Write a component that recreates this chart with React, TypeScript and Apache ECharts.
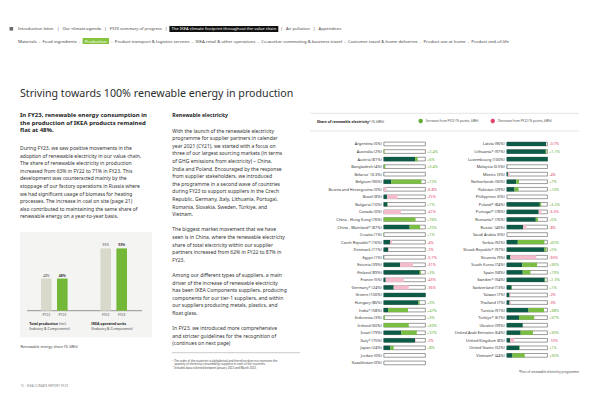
import React, { useEffect, useRef } from "react";
import * as echarts from "echarts";

const FONT = '"Noto Sans", "Open Sans", sans-serif';

// ---- left chart data ----
const yearLabels = ["FY22", "FY23"];
const totalProductionShare = [48, 48];
const ikeaUnitsShare = [93, 93];

// ---- country chart data ----
const leftCountries = [
  "Argentina", "Australia", "Austria", "Bangladesh", "Belarus²", "Belgium",
  "Bosnia and Herzegovina", "Brazil", "Bulgaria", "Canada", "China - Hong Kong",
  "China - Mainland*", "Croatia", "Czech Republic*", "Denmark", "Egypt", "Estonia",
  "Finland", "France", "Germany*", "Greece", "Hungary", "India*", "Indonesia",
  "Ireland", "Israel", "Italy*", "Japan", "Jordan", "Kazakhstan",
];
const leftShare = [0, 2, 81, 4, 0.3, 90, 0, 8, 10, 0, 76, 87, 1, 16, 11, 1, 39, 89, 5, 24, 100, 86, 58, 3, 60, 79, 75, 24, 0, 0];
const leftChange: (number | null)[] = [null, 2.4, 6, 3.4, null, 72, -6.8, -25, 1, -41, 76, 25, 1, -4, -2, -0.7, -31, 3, -43, -36, null, 3, 47, 3, 60, 37, -2, 8, null, null];

const rightCountries = [
  "Latvia", "Lithuania*", "Luxembourg", "Malaysia", "Mexico", "Netherlands",
  "Pakistan", "Philippines", "Poland*", "Portugal*", "Romania*", "Russia²",
  "Saudi Arabia", "Serbia", "Slovak Republic*", "Slovenia", "South Korea", "Spain",
  "Sweden*", "Switzerland", "Taiwan", "Thailand", "Tunisia", "Türkiye*", "Ukraine",
  "United Arab Emirates", "United Kingdom", "United States", "Vietnam*",
];
const rightShare = [96, 97, 100, 0.5, 3, 30, 29, 0, 84, 78, 76, 40, 0, 92, 97, 9, 74, 58, 94, 13, 7, 7, 91, 67, 39, 64, 8, 32, 44];
const rightChange: (number | null)[] = [-0.7, 1.7, null, null, -4, 7, 10, null, 3.2, -6.3, 5, -8, null, 65, 5, -63, 36, 19, 1.3, 1, -2, -3, 38, 37, null, 30, -10, 1, 30];

const INC_NAME = "Increase from FY22 (% points, kWh)";
const DEC_NAME = "Decrease from FY22 (% points, kWh)";

const C_DARK = "#0d5a46";
const C_LIGHT = "#79bd42";
const C_PINK = "#f4bccb";
const C_UP = "#5fae33";
const C_DOWN = "#e2466d";
const C_FY22 = "#d8d8cb";
const C_FY23 = "#74b83a";
const C_TEXT = "#333333";

const darkPart = (s: number, c: number | null) => (c != null && c > 0 ? Math.max(0, s - c) : s);
const lightPart = (s: number, c: number | null) => (c != null && c > 0 ? s - darkPart(s, c) : 0);
const pinkPart = (s: number, c: number | null) => (c != null && c < 0 ? Math.min(-c, 100 - s) : 0);

function countrySeries(names: string[], share: number[], change: (number | null)[], axis: number) {
  const bw = 4.2;
  return [
    {
      type: "bar",
      name: "outline",
      xAxisIndex: axis,
      yAxisIndex: axis,
      data: names.map(() => 100),
      barWidth: bw,
      barGap: "-100%",
      silent: true,
      itemStyle: { color: "#ffffff", borderColor: "#3a3a3a", borderWidth: 0.5 },
      label: {
        show: true,
        position: "right",
        distance: 1.5,
        fontFamily: FONT,
        fontSize: 3.8,
        formatter: (p: any) => {
          const c = change[p.dataIndex];
          if (c == null) return "";
          return c > 0 ? `{up|+${c}%}` : `{down|${c}%}`;
        },
        rich: {
          up: { color: C_UP, fontSize: 3.8, fontFamily: FONT },
          down: { color: C_DOWN, fontSize: 3.8, fontFamily: FONT },
        },
      },
    },
    {
      type: "bar",
      name: "base",
      stack: "s" + axis,
      xAxisIndex: axis,
      yAxisIndex: axis,
      barWidth: bw,
      barGap: "-100%",
      silent: true,
      data: share.map((s, i) => darkPart(s, change[i])),
      itemStyle: { color: C_DARK },
    },
    {
      type: "bar",
      name: INC_NAME,
      stack: "s" + axis,
      xAxisIndex: axis,
      yAxisIndex: axis,
      barWidth: bw,
      barGap: "-100%",
      silent: true,
      data: share.map((s, i) => lightPart(s, change[i])),
      itemStyle: { color: C_LIGHT },
    },
    {
      type: "bar",
      name: DEC_NAME,
      stack: "s" + axis,
      xAxisIndex: axis,
      yAxisIndex: axis,
      barWidth: bw,
      barGap: "-100%",
      silent: true,
      data: share.map((s, i) => pinkPart(s, change[i])),
      itemStyle: { color: C_PINK },
    },
  ];
}

function groupSeries(values: number[], axis: number) {
  return {
    type: "bar",
    name: "group" + axis,
    xAxisIndex: axis,
    yAxisIndex: axis,
    barWidth: 10.6,
    silent: true,
    data: values.map((v, i) => ({ value: v, itemStyle: { color: i === 0 ? C_FY22 : C_FY23 } })),
    label: {
      show: true,
      position: "top",
      distance: 2,
      formatter: (p: any) => (p.dataIndex === 1 ? `{b|${p.value}%}` : `{n|${p.value}%}`),
      rich: {
        b: { fontFamily: FONT, fontSize: 3.4, fontWeight: "bold", color: C_TEXT },
        n: { fontFamily: FONT, fontSize: 3.4, color: "#555" },
      },
    },
  };
}

const navTopText =
  "Introduction letter   |   Our climate agenda   |   FY23 summary of progress   |  {k| The IKEA climate footprint throughout the value chain }  |   Air pollution   |   Appendices";
const navBottomText =
  "Materials  -  Food ingredients  -  {g| Production }  -  Product transport & logistics services  -  IKEA retail & other operations  -  Co-worker commuting & business travel  -  Customer travel & home deliveries  -  Product use at home  -  Product end-of-life";

const leftHeading = "In FY23, renewable energy consumption in\nthe production of IKEA products remained\nflat at 48%.";
const leftBody = [
  "During FY23, we saw positive movements in the",
  "adoption of renewable electricity in our value chain.",
  "The share of renewable electricity in production",
  "increased from 63% in FY22 to 71% in FY23. This",
  "development was counteracted mainly by the",
  "stoppage of our factory operations in Russia where",
  "we had significant usage of biomass for heating",
  "processes. The increase in coal on site (page 21)",
  "also contributed to maintaining the same share of",
  "renewable energy on a year-to-year basis.",
].join("\n");

const midBody = [
  "With the launch of the renewable electricity",
  "programme for supplier partners in calendar",
  "year 2021 (CY21), we started with a focus on",
  "three of our largest sourcing markets (in terms",
  "of GHG emissions from electricity) – China,",
  "India and Poland. Encouraged by the response",
  "from supplier stakeholders, we introduced",
  "the programme in a second wave of countries",
  "during FY23 to support suppliers in the Czech",
  "Republic, Germany, Italy, Lithuania, Portugal,",
  "Romania, Slovakia, Sweden, Türkiye, and",
  "Vietnam.",
  "",
  "The biggest market movement that we have",
  "seen is in China, where the renewable electricity",
  "share of total electricity within our supplier",
  "partners increased from 62% in FY22 to 87% in",
  "FY23.",
  "",
  "Among our different types of suppliers, a main",
  "driver of the increase of renewable electricity",
  "has been IKEA Components suppliers, producing",
  "components for our tier-1 suppliers, and within",
  "our suppliers producing metals, plastics, and",
  "float glass.",
  "",
  "In FY23, we introduced more comprehensive",
  "and stricter guidelines for the recognition of",
  "(continues on next page)",
].join("\n");

const footnotes =
  "¹ The order of the countries is alphabetical and therefore does not represent the\n   quantity of electricity consumed by suppliers in each of the countries.\n² Includes data collected between January 2022 and March 2022.";

function txt(x: number, y: number, text: string, size: number, extra: any = {}) {
  return {
    type: "text",
    x,
    y,
    silent: true,
    style: {
      text,
      fontFamily: FONT,
      fontSize: size,
      fill: C_TEXT,
      textVerticalAlign: "middle",
      ...extra,
    },
  };
}

export default function App() {
  const ref = useRef<HTMLDivElement>(null);
  useEffect(() => {
    if (!ref.current) return;
    const chart = echarts.init(ref.current, undefined, { renderer: "svg" });
    const catAxisCommon = {
      type: "category",
      inverse: true,
      axisLine: { show: false },
      axisTick: { show: false },
      axisLabel: { fontFamily: FONT, fontSize: 3.9, color: C_TEXT, margin: 2, interval: 0 },
    };
    const hiddenValue = { type: "value", min: 0, max: 100, show: false };
    const option: any = {
      animation: false,
      backgroundColor: "#ffffff",
      textStyle: { fontFamily: FONT },
      grid: [
        { left: 38.3, top: 243.7, width: 32, height: 67 },
        { left: 97.7, top: 243.7, width: 32, height: 67 },
        { left: 383.6, top: 140.2, width: 42, height: 226.5 },
        { left: 506.7, top: 140.2, width: 41, height: 218.95 },
      ],
      xAxis: [
        {
          type: "category", gridIndex: 0, data: yearLabels,
          axisLine: { show: false }, axisTick: { show: false },
          axisLabel: { fontFamily: FONT, fontSize: 3.4, color: "#555", margin: 2.5 },
        },
        {
          type: "category", gridIndex: 1, data: yearLabels,
          axisLine: { show: false }, axisTick: { show: false },
          axisLabel: { fontFamily: FONT, fontSize: 3.4, color: "#555", margin: 2.5 },
        },
        { ...hiddenValue, gridIndex: 2 },
        { ...hiddenValue, gridIndex: 3 },
      ],
      yAxis: [
        { ...hiddenValue, gridIndex: 0 },
        { ...hiddenValue, gridIndex: 1 },
        { ...catAxisCommon, gridIndex: 2, data: leftCountries.map((n, i) => `${n} (${leftShare[i]}%)`) },
        { ...catAxisCommon, gridIndex: 3, data: rightCountries.map((n, i) => `${n} (${rightShare[i]}%)`) },
      ],
      legend: {
        selectedMode: false,
        left: 418.5,
        top: 118.8,
        icon: "circle",
        itemWidth: 4.4,
        itemHeight: 4.4,
        itemGap: 12,
        padding: 0,
        textStyle: { fontFamily: FONT, fontSize: 3.2, color: "#444", padding: [0, 0, 0, -2] },
        data: [
          { name: INC_NAME, itemStyle: { color: C_UP } },
          { name: DEC_NAME, itemStyle: { color: C_DOWN } },
        ],
      },
      series: [
        groupSeries(totalProductionShare, 0),
        groupSeries(ikeaUnitsShare, 1),
        ...countrySeries(leftCountries, leftShare, leftChange, 2),
        ...countrySeries(rightCountries, rightShare, rightChange, 3),
      ],
      graphic: [
        // navigation
        { type: "rect", silent: true, shape: { x: 9.5, y: 27, width: 3.6, height: 3.6 }, style: { fill: "#6b6b6b" } },
        txt(18, 28.9, navTopText, 4.15, {
          fill: "#444",
          rich: { k: { backgroundColor: "#111111", fill: "#ffffff", fontSize: 4.15, fontFamily: FONT, padding: [1, 1] } },
        }),
        txt(18, 41, navBottomText, 4.3, {
          fill: "#444",
          rich: { g: { backgroundColor: "#86c440", fill: "#ffffff", fontSize: 4.3, fontFamily: FONT, padding: [1, 1] } },
        }),
        // title
        txt(20, 93.3, "Striving towards 100% renewable energy in production", 10.65, { fill: "#2e2e2e" }),
        // left column
        txt(20, 111.25, leftHeading, 6, { fontWeight: "bold", lineHeight: 7.5, textVerticalAlign: "top", fill: "#222" }),
        txt(20, 144.2, leftBody, 5, { lineHeight: 7.6, textVerticalAlign: "top" }),
        { type: "rect", silent: true, z: -10, shape: { x: 20, y: 232, width: 132, height: 105.5 }, style: { fill: "#f4f4f2" } },
        { type: "line", silent: true, shape: { x1: 27, y1: 310.7, x2: 142, y2: 310.7 }, style: { stroke: "#555", lineWidth: 0.6 } },
        txt(29.3, 321.5, "{b|Total production} (incl.\nIndustry & Components)", 3.5, {
          lineHeight: 4.6, textVerticalAlign: "top", fill: "#444",
          rich: { b: { fontWeight: "bold", fontSize: 3.5, fontFamily: FONT, fill: "#222" } },
        }),
        txt(91.3, 321.5, "{b|IKEA operated units}\n(Industry & Components)", 3.5, {
          lineHeight: 4.6, textVerticalAlign: "top", fill: "#444",
          rich: { b: { fontWeight: "bold", fontSize: 3.5, fontFamily: FONT, fill: "#222" } },
        }),
        txt(20.5, 346, "Renewable energy share (% kWh)", 3.7, { fill: "#444" }),
        txt(20.5, 385.7, "15 · IKEA CLIMATE REPORT FY23", 3.2, { fill: "#888" }),
        // middle column
        txt(172.3, 115.3, "Renewable electricity", 5.2, { fontWeight: "bold", fill: "#222" }),
        txt(172.3, 126.9, midBody, 5, { lineHeight: 7.6, textVerticalAlign: "top" }),
        { type: "line", silent: true, shape: { x1: 172, y1: 352.7, x2: 300, y2: 352.7 }, style: { stroke: "#999", lineWidth: 0.5 } },
        txt(172.3, 358.6, footnotes, 2.8, { lineHeight: 3.7, textVerticalAlign: "top", fill: "#444" }),
        // right chart header
        { type: "line", silent: true, shape: { x1: 310, y1: 113.3, x2: 579, y2: 113.3 }, style: { stroke: "#c8c8c8", lineWidth: 0.5 } },
        { type: "line", silent: true, shape: { x1: 310, y1: 131, x2: 579, y2: 131 }, style: { stroke: "#c8c8c8", lineWidth: 0.5 } },
        txt(317, 121, "{b|Share of renewable electricity¹} (% kWh)", 3.4, {
          fill: "#444",
          rich: { b: { fontWeight: "bold", fontSize: 3.5, fontFamily: FONT, fill: "#222" } },
        }),
        txt(579, 372, "*Part of renewable electricity programme", 3.1, { textAlign: "right", fill: "#444" }),
      ],
    };
    chart.setOption(option);
    return () => chart.dispose();
  }, []);
  return (
    <div
      ref={ref}
      style={{ position: "fixed", left: 0, top: 0, width: 600, height: 403, background: "#fff" }}
    />
  );
}
